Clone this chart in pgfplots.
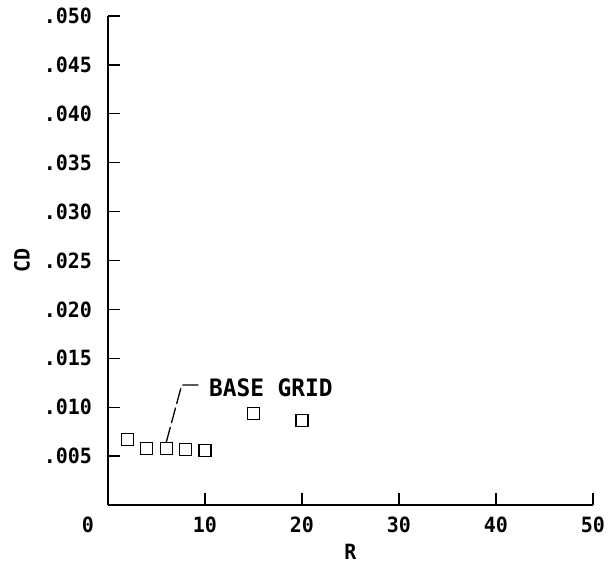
\documentclass[border=0pt]{standalone}
\usepackage{pgfplots}
\pgfplotsset{compat=1.18}
\usepackage{fontspec}
\setmainfont[FakeStretch=0.95]{DejaVu Sans Mono}
\begin{document}
\begin{tikzpicture}
\useasboundingbox (-108pt,-63pt) rectangle (502pt,505pt);
\begin{axis}[
  at={(0pt,0pt)}, anchor=origin,
  scale only axis, width=485pt, height=489pt,
  xmin=0, xmax=50, ymin=0, ymax=0.05,
  scaled y ticks=false, scaled x ticks=false,
  axis x line*=bottom, axis y line*=left,
  axis line style={line width=1.6pt},
  tick style={line width=1.4pt, black},
  tick align=inside, major tick length=12pt,
  xtick={0,10,20,30,40,50},
  xticklabels={\makebox[0pt][r]{0\hspace{14pt}},10,20,30,40,50},
  ytick={0,0.005,0.01,0.015,0.02,0.025,0.03,0.035,0.04,0.045,0.05},
  yticklabels={,.005,.010,.015,.020,.025,.030,.035,.040,.045,.050},
  xticklabel style={anchor=north, inner sep=0pt, yshift=-12pt, font=\fontsize{21}{23}\selectfont\bfseries},
  yticklabel style={anchor=east, inner sep=0pt, xshift=-16pt, font=\fontsize{21}{23}\selectfont\bfseries},
  xlabel={R}, ylabel={CD},
  xlabel style={at={(axis description cs:0.5,0)}, anchor=center, yshift=-47pt, font=\fontsize{21}{23}\selectfont\bfseries},
  ylabel style={at={(axis description cs:0,0.5)}, anchor=center, yshift=86pt, font=\fontsize{21}{23}\selectfont\bfseries},
  clip=false,
]
\addplot[only marks, mark=square, mark size=6pt, mark options={line width=1.3pt, black}] coordinates {
  (2,0.0067) (4,0.0058) (6,0.0058) (8,0.00566) (10,0.0056) (15,0.00934) (20,0.00862)
};
\draw[line width=1.3pt, dash pattern=on 16pt off 4pt] (axis cs:6,0.0064) -- (axis cs:7.6,0.01227) -- (axis cs:9.6,0.01227);
\node[anchor=west, inner sep=0pt, font=\fontsize{24}{26}\selectfont\bfseries] at (axis cs:10.4,0.01196) {BASE GRID};
\end{axis}
\end{tikzpicture}
\end{document}
